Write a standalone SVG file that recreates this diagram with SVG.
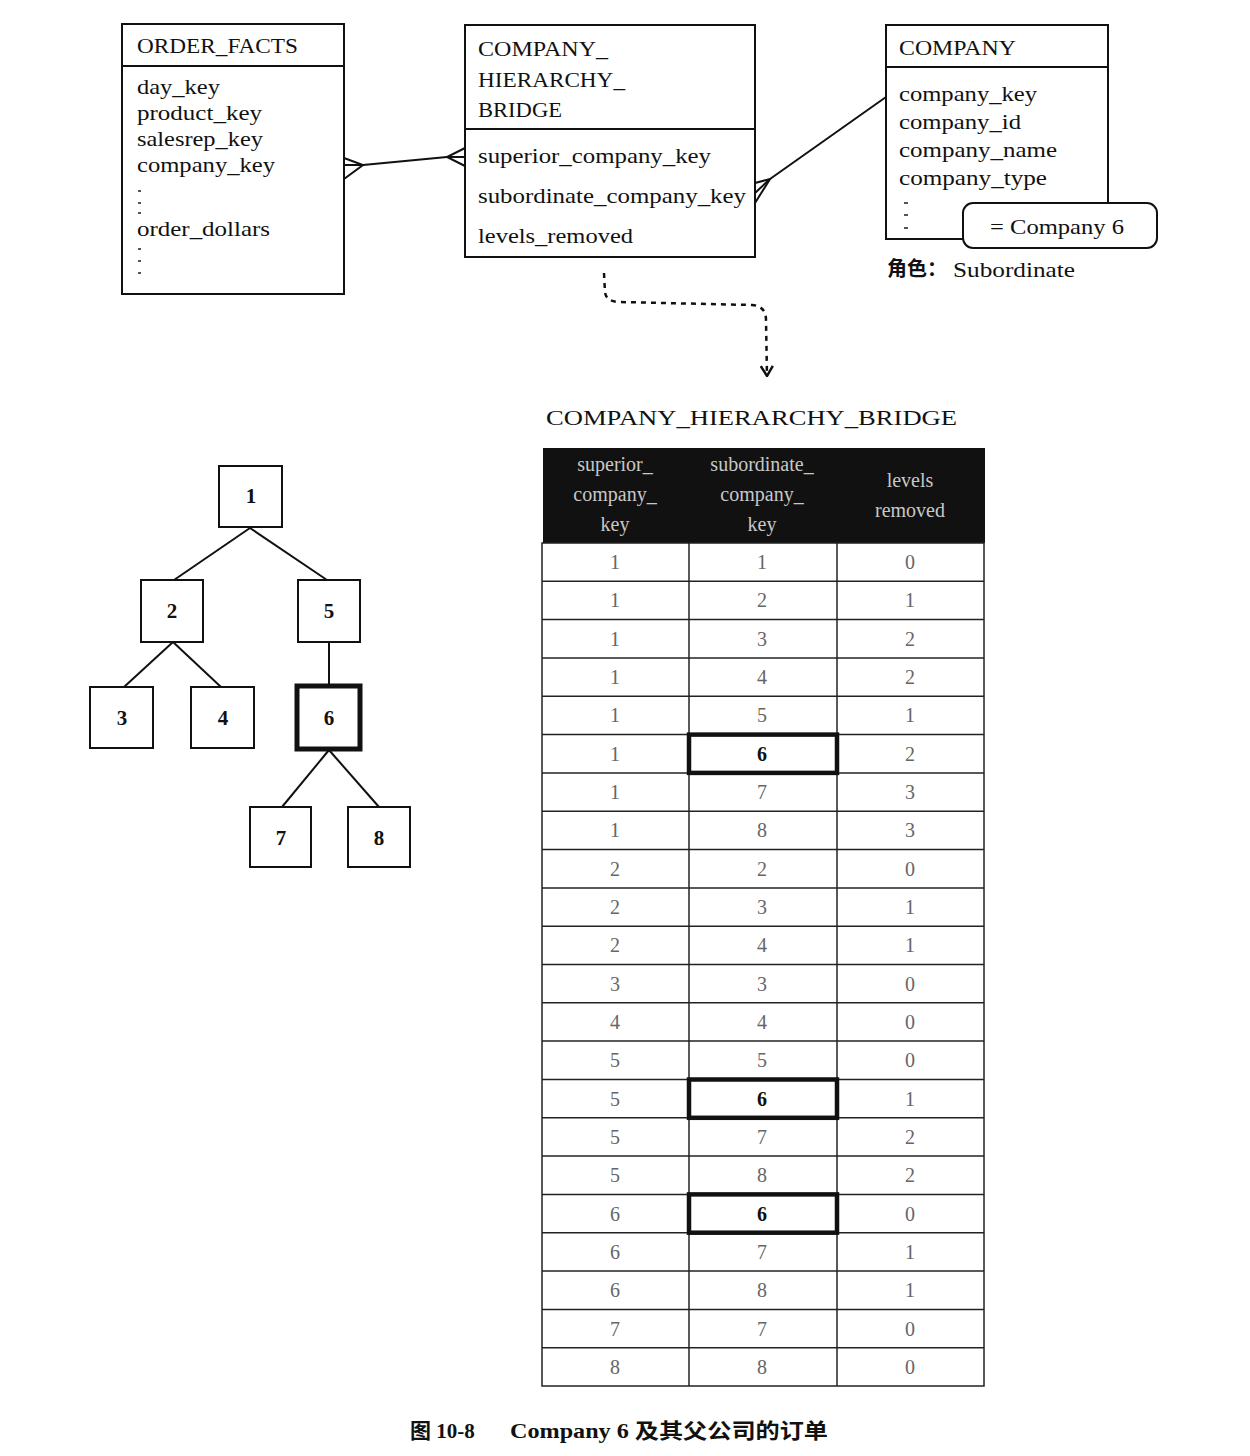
<svg xmlns="http://www.w3.org/2000/svg" width="1250" height="1456" viewBox="0 0 1250 1456">
<style>
.ent{fill:#fff;stroke:#111;stroke-width:2}
.t{font-family:"Liberation Serif","DejaVu Serif",serif;font-size:21px;fill:#111}
.hd{font-family:"Liberation Serif","DejaVu Serif",serif;font-size:20px;fill:#c8c8c8;text-anchor:middle}
.num{font-family:"Liberation Serif","DejaVu Serif",serif;font-size:20px;fill:#666;text-anchor:middle}
.numb{font-family:"Liberation Serif","DejaVu Serif",serif;font-size:20px;fill:#111;font-weight:bold;text-anchor:middle}
.tn{font-family:"Liberation Serif","DejaVu Serif",serif;font-size:21px;font-weight:bold;fill:#111;text-anchor:middle}
.ln{stroke:#111;stroke-width:2;fill:none}
.grid{stroke:#222;stroke-width:1.5;fill:none}
.hi{stroke:#111;stroke-width:4.5;fill:none}
.dot{stroke:#555;stroke-width:2}
.cap{font-family:"Liberation Serif","Noto Sans CJK SC",serif;font-size:21px;font-weight:bold;fill:#111}
</style>
<defs>
<marker id="arr" viewBox="0 0 12 14" refX="11" refY="7" markerWidth="12" markerHeight="14" markerUnits="userSpaceOnUse" orient="auto">
<path d="M1,1 L11,7 L1,13" fill="none" stroke="#111" stroke-width="2.5"/>
</marker>
</defs>
<rect width="1250" height="1456" fill="#fff"/>

<g id="order_facts">
<rect class="ent" x="122" y="24" width="222" height="270"/>
<line class="ln" x1="122" y1="66" x2="344" y2="66"/>
<text class="t" x="137" y="53" textLength="161" lengthAdjust="spacingAndGlyphs">ORDER_FACTS</text>
<text class="t" x="137" y="94" textLength="83" lengthAdjust="spacingAndGlyphs">day_key</text>
<text class="t" x="137" y="120" textLength="125" lengthAdjust="spacingAndGlyphs">product_key</text>
<text class="t" x="137" y="146" textLength="126" lengthAdjust="spacingAndGlyphs">salesrep_key</text>
<text class="t" x="137" y="172" textLength="138" lengthAdjust="spacingAndGlyphs">company_key</text>
<line class="dot" x1="138" y1="191" x2="141" y2="191"/>
<line class="dot" x1="138" y1="203" x2="141" y2="203"/>
<line class="dot" x1="138" y1="213" x2="141" y2="213"/>
<text class="t" x="137" y="236" textLength="133" lengthAdjust="spacingAndGlyphs">order_dollars</text>
<line class="dot" x1="138" y1="249" x2="141" y2="249"/>
<line class="dot" x1="138" y1="261" x2="141" y2="261"/>
<line class="dot" x1="138" y1="273" x2="141" y2="273"/>
</g>

<g id="company_hierarchy_bridge">
<rect class="ent" x="465" y="25" width="290" height="232"/>
<line class="ln" x1="465" y1="129" x2="755" y2="129"/>
<text class="t" x="478" y="56" textLength="130" lengthAdjust="spacingAndGlyphs">COMPANY_</text>
<text class="t" x="478" y="87" textLength="147" lengthAdjust="spacingAndGlyphs">HIERARCHY_</text>
<text class="t" x="478" y="117" textLength="84" lengthAdjust="spacingAndGlyphs">BRIDGE</text>
<text class="t" x="478" y="163" textLength="233" lengthAdjust="spacingAndGlyphs">superior_company_key</text>
<text class="t" x="478" y="203" textLength="268" lengthAdjust="spacingAndGlyphs">subordinate_company_key</text>
<text class="t" x="478" y="243" textLength="155" lengthAdjust="spacingAndGlyphs">levels_removed</text>
</g>

<g id="company">
<rect class="ent" x="886" y="25" width="222" height="214"/>
<line class="ln" x1="886" y1="67" x2="1108" y2="67"/>
<text class="t" x="899" y="55" textLength="117" lengthAdjust="spacingAndGlyphs">COMPANY</text>
<text class="t" x="899" y="101" textLength="138" lengthAdjust="spacingAndGlyphs">company_key</text>
<text class="t" x="899" y="129" textLength="122" lengthAdjust="spacingAndGlyphs">company_id</text>
<text class="t" x="899" y="157" textLength="158" lengthAdjust="spacingAndGlyphs">company_name</text>
<text class="t" x="899" y="185" textLength="148" lengthAdjust="spacingAndGlyphs">company_type</text>
<line class="dot" x1="904" y1="203" x2="908" y2="203"/>
<line class="dot" x1="904" y1="215" x2="908" y2="215"/>
<line class="dot" x1="904" y1="228" x2="908" y2="228"/>
</g>

<g id="callout">
<rect x="963" y="203" width="194" height="45" rx="10" ry="10" fill="#fff" stroke="#111" stroke-width="2"/>
<text class="t" x="990" y="234" textLength="134" lengthAdjust="spacingAndGlyphs">= Company 6</text>
</g>

<g id="role_label">
<text x="887" y="276" font-family="'Noto Sans CJK SC',sans-serif" font-size="20" font-weight="bold" fill="#111">角色：</text>
<text class="t" x="953" y="277" textLength="122" lengthAdjust="spacingAndGlyphs">Subordinate</text>
</g>

<g id="connectors">
<!-- ORDER_FACTS to bridge -->
<line class="ln" x1="363" y1="165" x2="447" y2="157"/>
<polyline class="ln" points="344,158 363,165 344,179"/>
<line class="ln" x1="344" y1="165" x2="363" y2="165"/>
<polyline class="ln" points="465,148 447,157 465,166"/>
<line class="ln" x1="447" y1="157" x2="465" y2="157"/>
<!-- bridge to COMPANY -->
<line class="ln" x1="770" y1="179" x2="886" y2="97"/>
<polyline class="ln" points="755,183 770,179 755,203"/>
<line class="ln" x1="755" y1="193" x2="770" y2="179"/>
<!-- dashed arrow -->
<path d="M604,273 L605,292 Q606,302 620,302 L752,305 Q766,306 766,320 L767,376" fill="none" stroke="#111" stroke-width="2.5" stroke-dasharray="5,5" marker-end="url(#arr)"/>
<!-- tree edges -->
<line class="ln" x1="250" y1="528" x2="174" y2="580"/>
<line class="ln" x1="250" y1="528" x2="327" y2="580"/>
<line class="ln" x1="173" y1="642" x2="124" y2="687"/>
<line class="ln" x1="173" y1="642" x2="221" y2="687"/>
<line class="ln" x1="329" y1="642" x2="329" y2="686"/>
<line class="ln" x1="329" y1="750" x2="282" y2="807"/>
<line class="ln" x1="329" y1="750" x2="379" y2="807"/>
</g>

<g id="tree_node_1"><rect class="ent" x="219" y="466" width="63" height="61"/><text class="tn" x="251" y="503">1</text></g>
<g id="tree_node_2"><rect class="ent" x="141" y="580" width="62" height="62"/><text class="tn" x="172" y="618">2</text></g>
<g id="tree_node_5"><rect class="ent" x="298" y="580" width="62" height="62"/><text class="tn" x="329" y="618">5</text></g>
<g id="tree_node_3"><rect class="ent" x="90" y="687" width="63" height="61"/><text class="tn" x="122" y="725">3</text></g>
<g id="tree_node_4"><rect class="ent" x="191" y="687" width="63" height="61"/><text class="tn" x="223" y="725">4</text></g>
<g id="tree_node_6"><rect x="297" y="686" width="63" height="63" fill="#fff" stroke="#111" stroke-width="5"/><text class="tn" x="329" y="725">6</text></g>
<g id="tree_node_7"><rect class="ent" x="250" y="807" width="61" height="60"/><text class="tn" x="281" y="845">7</text></g>
<g id="tree_node_8"><rect class="ent" x="348" y="807" width="62" height="60"/><text class="tn" x="379" y="845">8</text></g>

<g id="bridge_table">
<text class="t" x="546" y="425" font-size="23" textLength="411" lengthAdjust="spacingAndGlyphs">COMPANY_HIERARCHY_BRIDGE</text>
<rect x="543" y="448" width="442" height="95" fill="#111"/>
<text class="hd" x="615" y="471">superior_</text>
<text class="hd" x="615" y="501">company_</text>
<text class="hd" x="615" y="531">key</text>
<text class="hd" x="762" y="471">subordinate_</text>
<text class="hd" x="762" y="501">company_</text>
<text class="hd" x="762" y="531">key</text>
<text class="hd" x="910" y="487">levels</text>
<text class="hd" x="910" y="517">removed</text>
<rect class="grid" x="542" y="543" width="442" height="843"/>
<line class="grid" x1="689" y1="543" x2="689" y2="1386"/>
<line class="grid" x1="837" y1="543" x2="837" y2="1386"/>
<g class="grid">
<line x1="542" y1="581.3" x2="984" y2="581.3"/>
<line x1="542" y1="619.6" x2="984" y2="619.6"/>
<line x1="542" y1="658" x2="984" y2="658"/>
<line x1="542" y1="696.3" x2="984" y2="696.3"/>
<line x1="542" y1="734.6" x2="984" y2="734.6"/>
<line x1="542" y1="772.9" x2="984" y2="772.9"/>
<line x1="542" y1="811.2" x2="984" y2="811.2"/>
<line x1="542" y1="849.5" x2="984" y2="849.5"/>
<line x1="542" y1="887.9" x2="984" y2="887.9"/>
<line x1="542" y1="926.2" x2="984" y2="926.2"/>
<line x1="542" y1="964.5" x2="984" y2="964.5"/>
<line x1="542" y1="1002.8" x2="984" y2="1002.8"/>
<line x1="542" y1="1041.1" x2="984" y2="1041.1"/>
<line x1="542" y1="1079.5" x2="984" y2="1079.5"/>
<line x1="542" y1="1117.8" x2="984" y2="1117.8"/>
<line x1="542" y1="1156.1" x2="984" y2="1156.1"/>
<line x1="542" y1="1194.4" x2="984" y2="1194.4"/>
<line x1="542" y1="1232.7" x2="984" y2="1232.7"/>
<line x1="542" y1="1271" x2="984" y2="1271"/>
<line x1="542" y1="1309.4" x2="984" y2="1309.4"/>
<line x1="542" y1="1347.7" x2="984" y2="1347.7"/>
</g>
<rect class="hi" x="689" y="734.6" width="148" height="38.3"/>
<rect class="hi" x="689" y="1079.5" width="148" height="38.3"/>
<rect class="hi" x="689" y="1194.4" width="148" height="38.3"/>
<g>
<text class="num" x="615" y="569">1</text><text class="num" x="762" y="569">1</text><text class="num" x="910" y="569">0</text>
<text class="num" x="615" y="607">1</text><text class="num" x="762" y="607">2</text><text class="num" x="910" y="607">1</text>
<text class="num" x="615" y="646">1</text><text class="num" x="762" y="646">3</text><text class="num" x="910" y="646">2</text>
<text class="num" x="615" y="684">1</text><text class="num" x="762" y="684">4</text><text class="num" x="910" y="684">2</text>
<text class="num" x="615" y="722">1</text><text class="num" x="762" y="722">5</text><text class="num" x="910" y="722">1</text>
<text class="num" x="615" y="761">1</text><text class="numb" x="762" y="761">6</text><text class="num" x="910" y="761">2</text>
<text class="num" x="615" y="799">1</text><text class="num" x="762" y="799">7</text><text class="num" x="910" y="799">3</text>
<text class="num" x="615" y="837">1</text><text class="num" x="762" y="837">8</text><text class="num" x="910" y="837">3</text>
<text class="num" x="615" y="876">2</text><text class="num" x="762" y="876">2</text><text class="num" x="910" y="876">0</text>
<text class="num" x="615" y="914">2</text><text class="num" x="762" y="914">3</text><text class="num" x="910" y="914">1</text>
<text class="num" x="615" y="952">2</text><text class="num" x="762" y="952">4</text><text class="num" x="910" y="952">1</text>
<text class="num" x="615" y="991">3</text><text class="num" x="762" y="991">3</text><text class="num" x="910" y="991">0</text>
<text class="num" x="615" y="1029">4</text><text class="num" x="762" y="1029">4</text><text class="num" x="910" y="1029">0</text>
<text class="num" x="615" y="1067">5</text><text class="num" x="762" y="1067">5</text><text class="num" x="910" y="1067">0</text>
<text class="num" x="615" y="1106">5</text><text class="numb" x="762" y="1106">6</text><text class="num" x="910" y="1106">1</text>
<text class="num" x="615" y="1144">5</text><text class="num" x="762" y="1144">7</text><text class="num" x="910" y="1144">2</text>
<text class="num" x="615" y="1182">5</text><text class="num" x="762" y="1182">8</text><text class="num" x="910" y="1182">2</text>
<text class="num" x="615" y="1221">6</text><text class="numb" x="762" y="1221">6</text><text class="num" x="910" y="1221">0</text>
<text class="num" x="615" y="1259">6</text><text class="num" x="762" y="1259">7</text><text class="num" x="910" y="1259">1</text>
<text class="num" x="615" y="1297">6</text><text class="num" x="762" y="1297">8</text><text class="num" x="910" y="1297">1</text>
<text class="num" x="615" y="1336">7</text><text class="num" x="762" y="1336">7</text><text class="num" x="910" y="1336">0</text>
<text class="num" x="615" y="1374">8</text><text class="num" x="762" y="1374">8</text><text class="num" x="910" y="1374">0</text>
</g>
</g>

<g id="caption">
<text class="cap" x="410" y="1438">图 10-8</text>
<text class="cap" x="510" y="1438" textLength="318" lengthAdjust="spacingAndGlyphs">Company 6 及其父公司的订单</text>
</g>
</svg>
